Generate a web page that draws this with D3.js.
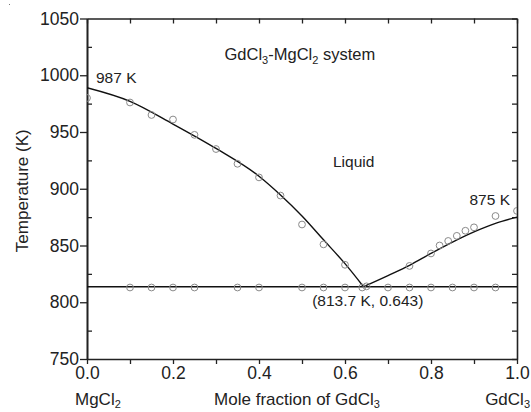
<!DOCTYPE html>
<html>
<head>
<meta charset="utf-8">
<script src="https://cdn.jsdelivr.net/npm/d3@7"></script>
<style>
  body { margin: 0; background: #fff; }
  text { font-family: "Liberation Sans", Arial, sans-serif; fill: #222; }
  .axis path, .axis line { stroke: #222; }
  .axis text { font-size: 17.5px; fill: #222; }
</style>
</head>
<body>
<div id="chart"></div>
<script>
// liquidus curves
const leftLiqX = [0, 0.1, 0.2, 0.3, 0.4, 0.45, 0.5, 0.55, 0.6, 0.643];
const leftLiqT = [989, 977, 957, 935.5, 911, 894.5, 876, 855, 834, 813.7];
const rightLiqX = [0.643, 0.7, 0.75, 0.8, 0.85, 0.9, 0.95, 1.0];
const rightLiqT = [813.7, 823.5, 832.5, 843, 853, 862, 869.5, 875];

// eutectic
const eutecticX = 0.643;
const eutecticT = 813.7;

// measured liquidus points (open circles)
const expLiqX = [0, 0.1, 0.15, 0.2, 0.25, 0.3, 0.35, 0.4, 0.45, 0.5, 0.55, 0.6, 0.65,
                 0.75, 0.8, 0.82, 0.84, 0.86, 0.88, 0.9, 0.95, 1.0];
const expLiqT = [980, 976, 965, 961, 947.5, 935, 922, 910, 894, 868.5, 851, 833, 814,
                 832, 843, 850, 854, 858.5, 863, 866, 876, 880.5];

// measured solidus points
const expSolX = [0.1, 0.15, 0.2, 0.25, 0.35, 0.4, 0.5, 0.55, 0.6, 0.64, 0.7, 0.75, 0.8, 0.85, 0.9, 0.95];
const expSolT = expSolX.map(() => 813);

const xTicks = [0, 0.1, 0.2, 0.3, 0.4, 0.5, 0.6, 0.7, 0.8, 0.9, 1.0];
const xTickLabels = ['0.0', '0.2', '0.4', '0.6', '0.8', '1.0'];
const yMajor = [750, 800, 850, 900, 950, 1000, 1050];
const yMinor = [775, 825, 875, 925, 975, 1025];

const W = 531, H = 412;
const margin = { top: 18.5, right: 14, bottom: 53, left: 87 };
const width = W - margin.left - margin.right;
const height = H - margin.top - margin.bottom;

const svg = d3.select('#chart').append('svg')
  .attr('width', W).attr('height', H);

// stray speck in the top left corner of the original
svg.append('rect').attr('x', 9).attr('y', 4).attr('width', 1).attr('height', 1).attr('fill', '#777');

const chart = svg.append('g')
  .attr('transform', `translate(${margin.left},${margin.top})`);

const xScale = d3.scaleLinear().domain([0, 1]).range([0, width]);
const yScale = d3.scaleLinear().domain([750, 1050]).range([height, 0]);

chart.append('clipPath').attr('id', 'plotclip')
  .append('rect').attr('width', width).attr('height', height);

// axes: bottom (outward ticks), top (inward), left major outward + minor inward, right inward
const fmtX = d => {
  const s = d3.format('.1f')(d);
  return xTickLabels.includes(s) ? s : '';
};

chart.append('g').attr('class', 'axis')
  .attr('transform', `translate(0,${height})`)
  .call(d3.axisBottom(xScale).tickValues(xTicks).tickFormat(fmtX).tickSize(5).tickPadding(3).tickSizeOuter(0));

chart.append('g').attr('class', 'axis')
  .call(d3.axisTop(xScale).tickValues(xTicks).tickFormat('').tickSize(-5).tickSizeOuter(0));

chart.append('g').attr('class', 'axis')
  .call(d3.axisLeft(yScale).tickValues(yMajor).tickFormat(d3.format('d')).tickSize(7).tickPadding(1).tickSizeOuter(0));

chart.append('g').attr('class', 'axis')
  .call(d3.axisRight(yScale).tickValues(yMinor).tickFormat('').tickSize(5).tickSizeOuter(0));

chart.append('g').attr('class', 'axis')
  .attr('transform', `translate(${width},0)`)
  .call(d3.axisLeft(yScale).tickValues(yMajor.concat(yMinor)).tickFormat('').tickSize(5).tickSizeOuter(0));

chart.selectAll('.axis path.domain').attr('stroke-width', 1.6);
chart.selectAll('.axis line').attr('stroke-width', 1.3);

// data marks
const plot = chart.append('g').attr('clip-path', 'url(#plotclip)');

const line = d3.line()
  .x(d => xScale(d[0]))
  .y(d => yScale(d[1]))
  .curve(d3.curveMonotoneX);

plot.append('path')
  .datum(leftLiqX.map((x, i) => [x, leftLiqT[i]]))
  .attr('d', line).attr('fill', 'none').attr('stroke', '#111').attr('stroke-width', 1.4);

plot.append('path')
  .datum(rightLiqX.map((x, i) => [x, rightLiqT[i]]))
  .attr('d', line).attr('fill', 'none').attr('stroke', '#111').attr('stroke-width', 1.4);

plot.append('line')
  .attr('x1', xScale(0)).attr('x2', xScale(1))
  .attr('y1', yScale(eutecticT)).attr('y2', yScale(eutecticT))
  .attr('stroke', '#111').attr('stroke-width', 1.4);

const pts = expLiqX.map((x, i) => [x, expLiqT[i]])
  .concat(expSolX.map((x, i) => [x, expSolT[i]]));

plot.selectAll('.pt').data(pts).join('circle')
  .attr('class', 'pt')
  .attr('cx', d => xScale(d[0]))
  .attr('cy', d => yScale(d[1]))
  .attr('r', 3.4)
  .attr('fill', 'none')
  .attr('stroke', '#8a8a8a')
  .attr('stroke-width', 1);

// annotations
const ann = (x, y, anchor, size) => chart.append('text')
  .attr('x', x).attr('y', y).attr('text-anchor', anchor).style('font-size', size + 'px');

ann(xScale(0) + 9, yScale(987) - 7, 'start', 15.5).text('987 K');
ann(xScale(1) - 7, yScale(875) - 12, 'end', 15.5).text('875 K');
ann(xScale(0.572), yScale(919), 'start', 15.5).text('Liquid');
ann(xScale(0.653), yScale(eutecticT) + 19, 'middle', 15.5).text(`(${eutecticT} K, ${eutecticX})`);

const title = ann(xScale(0.495), 41, 'middle', 16.5);
title.append('tspan').text('GdCl');
title.append('tspan').attr('dy', 4).style('font-size', '11px').text('3');
title.append('tspan').attr('dy', -4).text('-MgCl');
title.append('tspan').attr('dy', 4).style('font-size', '11px').text('2');
title.append('tspan').attr('dy', -4).text(' system');

// axis titles
const xt = svg.append('text').attr('x', 297).attr('y', 405)
  .attr('text-anchor', 'middle').style('font-size', '17px');
xt.append('tspan').text('Mole fraction of GdCl');
xt.append('tspan').attr('dy', 3).style('font-size', '11px').text('3');

const left = svg.append('text').attr('x', 75).attr('y', 405)
  .attr('text-anchor', 'start').style('font-size', '17px');
left.append('tspan').text('MgCl');
left.append('tspan').attr('dy', 3).style('font-size', '11px').text('2');

const right = svg.append('text').attr('x', 530).attr('y', 405)
  .attr('text-anchor', 'end').style('font-size', '17px');
right.append('tspan').text('GdCl');
right.append('tspan').attr('dy', 3).style('font-size', '11px').text('3');

svg.append('text')
  .attr('transform', `translate(28,${margin.top + height / 2 + 2}) rotate(-90)`)
  .attr('text-anchor', 'middle').style('font-size', '17px')
  .text('Temperature (K)');
</script>
</body>
</html>
